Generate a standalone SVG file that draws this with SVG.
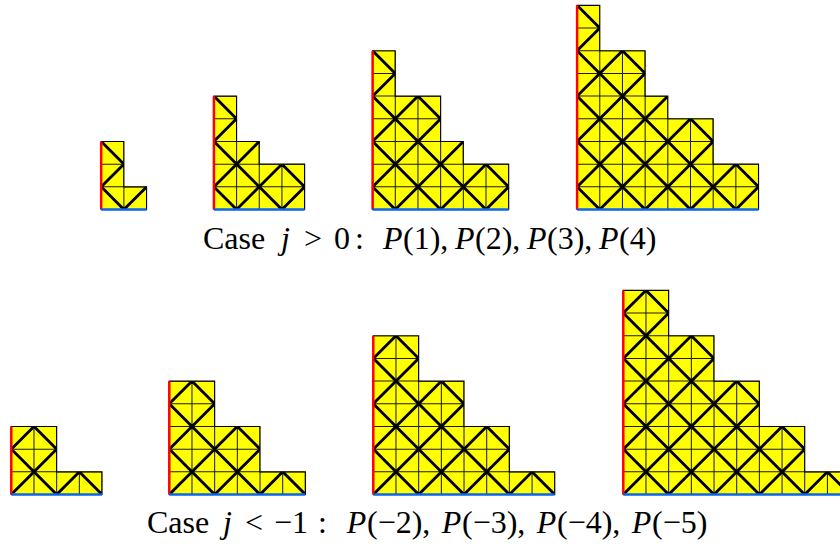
<svg xmlns="http://www.w3.org/2000/svg" xmlns:xlink="http://www.w3.org/1999/xlink" width="840" height="544" viewBox="0 0 840 544">
<style>
.fill{fill:#ffff00;stroke:none}
.grid{fill:none;stroke:#1a1a1a;stroke-width:0.045}
.edge{fill:none;stroke:#000;stroke-width:0.05}
.diag{fill:none;stroke:#000;stroke-width:0.125;stroke-linecap:round}
.red{fill:none;stroke:#ff0000;stroke-width:0.11}
.blue{fill:none;stroke:#0a64f0;stroke-width:0.11}
.cap{font-family:'Liberation Serif','Times New Roman','DejaVu Serif',serif;font-size:32px;fill:#000}
.it{font-style:italic}
</style>
<defs>
<polygon id="sP1" points="0,0 2,0 2,1 1,1 1,3 0,3"/>
<polygon id="sP2" points="0,0 4,0 4,2 2,2 2,3 1,3 1,5 0,5"/>
<polygon id="sP3" points="0,0 6,0 6,2 4,2 4,3 3,3 3,5 1,5 1,7 0,7"/>
<polygon id="sP4" points="0,0 8,0 8,2 6,2 6,4 4,4 4,5 3,5 3,7 1,7 1,9 0,9"/>
<polygon id="sQ2" points="0,0 4,0 4,1 2,1 2,3 0,3"/>
<polygon id="sQ3" points="0,0 6,0 6,1 4,1 4,3 2,3 2,5 0,5"/>
<polygon id="sQ4" points="0,0 8,0 8,1 6,1 6,3 4,3 4,5 2,5 2,7 0,7"/>
<polygon id="sQ5" points="0,0 10,0 10,1 8,1 8,3 6,3 6,5 4,5 4,7 2,7 2,9 0,9"/>
<clipPath id="cP1"><use xlink:href="#sP1" href="#sP1"/></clipPath>
<clipPath id="cP2"><use xlink:href="#sP2" href="#sP2"/></clipPath>
<clipPath id="cP3"><use xlink:href="#sP3" href="#sP3"/></clipPath>
<clipPath id="cP4"><use xlink:href="#sP4" href="#sP4"/></clipPath>
<clipPath id="cQ2"><use xlink:href="#sQ2" href="#sQ2"/></clipPath>
<clipPath id="cQ3"><use xlink:href="#sQ3" href="#sQ3"/></clipPath>
<clipPath id="cQ4"><use xlink:href="#sQ4" href="#sQ4"/></clipPath>
<clipPath id="cQ5"><use xlink:href="#sQ5" href="#sQ5"/></clipPath>
<path id="gl" d="M1 0V10M2 0V10M3 0V10M4 0V10M5 0V10M6 0V10M7 0V10M8 0V10M9 0V10M0 1H10M0 2H10M0 3H10M0 4H10M0 5H10M0 6H10M0 7H10M0 8H10M0 9H10"/>
<path id="dOdd" d="M-11 12L13-12M-9 12L15-12M-7 12L17-12M-5 12L19-12M-3 12L21-12M-1 12L23-12M1 12L25-12M3 12L27-12M5 12L29-12M7 12L31-12M-21-12L3 12M-19-12L5 12M-17-12L7 12M-15-12L9 12M-13-12L11 12M-11-12L13 12M-9-12L15 12M-7-12L17 12M-5-12L19 12M-3-12L21 12"/>
<path id="dEven" d="M-10 12L14-12M-8 12L16-12M-6 12L18-12M-4 12L20-12M-2 12L22-12M0 12L24-12M2 12L26-12M4 12L28-12M6 12L30-12M8 12L32-12M-22-12L2 12M-20-12L4 12M-18-12L6 12M-16-12L8 12M-14-12L10 12M-12-12L12 12M-10-12L14 12M-8-12L16 12M-6-12L18 12M-4-12L20 12M-2-12L22 12"/>
</defs>

<g id="P1" transform="translate(101.2,209.5) scale(22.68,-22.68)">
<use href="#sP1" class="fill"/>
<use href="#gl" class="grid" clip-path="url(#cP1)"/>
<use href="#sP1" class="edge"/>
<use href="#dOdd" class="diag" clip-path="url(#cP1)"/>
<path class="red" d="M0 0V3"/>
<path class="blue" d="M0 0H2"/>
</g>
<g id="P2" transform="translate(213.9,209.5) scale(22.68,-22.68)">
<use href="#sP2" class="fill"/>
<use href="#gl" class="grid" clip-path="url(#cP2)"/>
<use href="#sP2" class="edge"/>
<use href="#dOdd" class="diag" clip-path="url(#cP2)"/>
<path class="red" d="M0 0V5"/>
<path class="blue" d="M0 0H4"/>
</g>
<g id="P3" transform="translate(372.6,209.5) scale(22.68,-22.68)">
<use href="#sP3" class="fill"/>
<use href="#gl" class="grid" clip-path="url(#cP3)"/>
<use href="#sP3" class="edge"/>
<use href="#dOdd" class="diag" clip-path="url(#cP3)"/>
<path class="red" d="M0 0V7"/>
<path class="blue" d="M0 0H6"/>
</g>
<g id="P4" transform="translate(577.1,209.5) scale(22.68,-22.68)">
<use href="#sP4" class="fill"/>
<use href="#gl" class="grid" clip-path="url(#cP4)"/>
<use href="#sP4" class="edge"/>
<use href="#dOdd" class="diag" clip-path="url(#cP4)"/>
<path class="red" d="M0 0V9"/>
<path class="blue" d="M0 0H8"/>
</g>

<g id="Q2" transform="translate(11.3,494.5) scale(22.68,-22.68)">
<use href="#sQ2" class="fill"/>
<use href="#gl" class="grid" clip-path="url(#cQ2)"/>
<use href="#sQ2" class="edge"/>
<use href="#dEven" class="diag" clip-path="url(#cQ2)"/>
<path class="red" d="M0 0V3"/>
<path class="blue" d="M0 0H4"/>
</g>
<g id="Q3" transform="translate(169.3,494.5) scale(22.68,-22.68)">
<use href="#sQ3" class="fill"/>
<use href="#gl" class="grid" clip-path="url(#cQ3)"/>
<use href="#sQ3" class="edge"/>
<use href="#dEven" class="diag" clip-path="url(#cQ3)"/>
<path class="red" d="M0 0V5"/>
<path class="blue" d="M0 0H6"/>
</g>
<g id="Q4" transform="translate(373.3,494.5) scale(22.68,-22.68)">
<use href="#sQ4" class="fill"/>
<use href="#gl" class="grid" clip-path="url(#cQ4)"/>
<use href="#sQ4" class="edge"/>
<use href="#dEven" class="diag" clip-path="url(#cQ4)"/>
<path class="red" d="M0 0V7"/>
<path class="blue" d="M0 0H8"/>
</g>
<g id="Q5" transform="translate(623.3,494.5) scale(22.68,-22.68)">
<use href="#sQ5" class="fill"/>
<use href="#gl" class="grid" clip-path="url(#cQ5)"/>
<use href="#sQ5" class="edge"/>
<use href="#dEven" class="diag" clip-path="url(#cQ5)"/>
<path class="red" d="M0 0V9"/>
<path class="blue" d="M0 0H10"/>
</g>

<g id="caption-top">
<text class="cap" font-family="'Liberation Serif', 'Times New Roman', serif" y="249"><tspan x="203">Case</tspan><tspan x="281" class="it">j</tspan><tspan x="304">&gt;</tspan><tspan x="334">0</tspan><tspan x="355">:</tspan><tspan x="383" class="it">P</tspan><tspan x="403">(1),</tspan><tspan x="455" class="it">P</tspan><tspan x="475">(2),</tspan><tspan x="527" class="it">P</tspan><tspan x="547">(3),</tspan><tspan x="599" class="it">P</tspan><tspan x="619">(4)</tspan></text>
</g>
<g id="caption-bottom">
<text class="cap" font-family="'Liberation Serif', 'Times New Roman', serif" y="533"><tspan x="147">Case</tspan><tspan x="223" class="it">j</tspan><tspan x="245">&lt;</tspan><tspan x="274">−1</tspan><tspan x="318">:</tspan><tspan x="346.7" class="it">P</tspan><tspan x="367">(−2),</tspan><tspan x="441.7" class="it">P</tspan><tspan x="462">(−3),</tspan><tspan x="536.7" class="it">P</tspan><tspan x="557">(−4),</tspan><tspan x="631.7" class="it">P</tspan><tspan x="652">(−5)</tspan></text>
</g>
</svg>
